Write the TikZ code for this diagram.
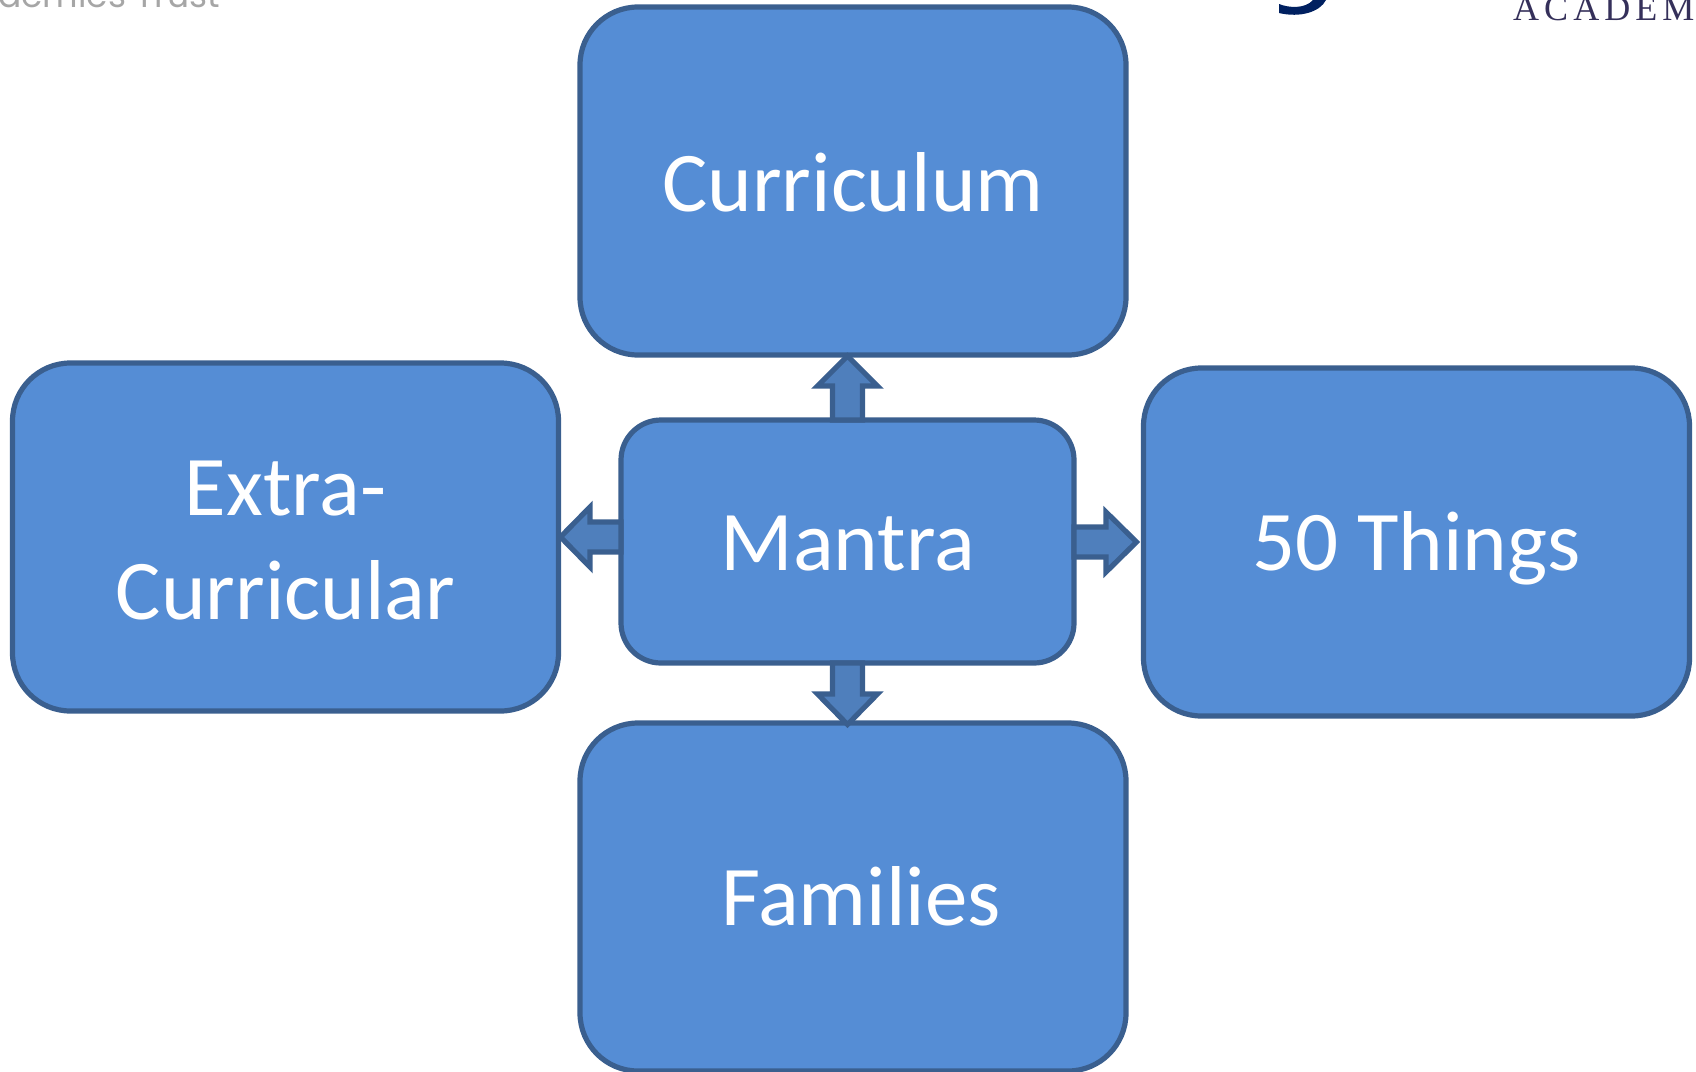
\documentclass[tikz,border=0pt]{standalone}
\usepackage{fontspec}
\setmainfont{Carlito}
\newfontfamily\trustfont{Poppins}
\newfontfamily\acadfont[LetterSpace=14]{Liberation Serif}
\usetikzlibrary{calc}
\definecolor{boxfill}{HTML}{558DD5}
\definecolor{boxline}{HTML}{3A5F8F}
\definecolor{arrowfill}{HTML}{4F7FBC}
\definecolor{trustgray}{HTML}{A6A6A6}
\definecolor{acadink}{HTML}{35305A}
\definecolor{navy}{HTML}{002060}
\tikzset{
  box/.style={draw=boxline,fill=boxfill,line width=5.2pt,rounded corners=#1,outer sep=0pt,inner sep=0pt,
    text=white,font=\fontsize{85}{104}\selectfont},
  bigbox/.style={box=58pt,minimum width=546pt,minimum height=348pt},
  capline/.style={text height=53pt,text depth=0pt},
  barrow/.style={draw=boxline,fill=arrowfill,line width=5.2pt,line join=miter,miter limit=10},
}
\begin{document}
\begin{tikzpicture}[x=1pt,y=-1pt]
\useasboundingbox (0,0) rectangle (1696,1071);
\clip (0,0) rectangle (1696,1071);
% cropped page furniture
\node[anchor=base west,inner sep=0pt,text=trustgray,font=\trustfont\fontsize{34.5}{35}\selectfont] (trust) at (-2,7) {demies Trust};
\node[anchor=base west,inner sep=0pt,text=acadink,font=\acadfont\fontsize{36}{36}\selectfont] (acad) at (1513,20) {ACADEM};
\fill[navy] (1279,4) .. controls (1289,8) and (1305,9) .. (1313,0) -- (1326,0) .. controls (1320,12) and (1300,18) .. (1279,13) -- cycle;
% boxes
\node[bigbox,capline] (curr) at (853,181) {\raisebox{-4pt}{Curriculum}};
\node[bigbox,text height=60pt,text depth=104pt] (extra) at (285.5,537) {\begin{tabular}[t]{@{}c@{}}Extra-\\Curricular\end{tabular}};
\node[bigbox,capline] (things) at (1416.5,542) {\raisebox{-2pt}{50 Things}};
\node[bigbox,capline] (fam) at (853,897) {\raisebox{-2pt}{\hspace{16pt}Families}};
\node[box=40pt,capline,minimum width=453pt,minimum height=243pt] (mantra) at (847.5,541.5) {\raisebox{-2pt}{Mantra}};
% block arrows
\coordinate (uptip) at (mantra.north |- curr.south);
\coordinate (downtip) at (mantra.south |- fam.north);
\coordinate (lefttip) at ($(extra.east)+(2,0)$);
\coordinate (righttip) at ($(things.west)+(-7,0)$);
\draw[barrow] ($(mantra.north)+(-15,0)$) -- ++(0,-34) -- ++(-15,0) -- ($(uptip)+(0,1)$) -- ($(mantra.north)+(30,-34)$) -- ++(-15,0) -- ++(0,34) -- cycle;
\draw[barrow] ($(mantra.south)+(-15,0)$) -- ++(0,31) -- ++(-15,0) -- ($(downtip)+(0,1.5)$) -- ($(mantra.south)+(30,31)$) -- ++(-15,0) -- ++(0,-31) -- cycle;
\draw[barrow] ($(mantra.west |- extra.east)+(0,-15)$) -- ++(-31,0) -- ++(0,-15) -- (lefttip) -- ($(mantra.west |- extra.east)+(-31,30)$) -- ++(0,-15) -- ++(31,0) -- cycle;
\draw[barrow] ($(mantra.east |- things.west)+(0,-15)$) -- ++(32,0) -- ++(0,-15) -- (righttip) -- ($(mantra.east |- things.west)+(32,30)$) -- ++(0,-15) -- ++(-32,0) -- cycle;
\end{tikzpicture}
\end{document}
